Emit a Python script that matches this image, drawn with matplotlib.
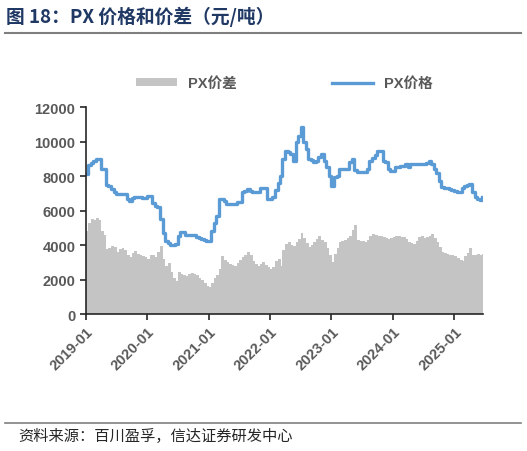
import matplotlib
matplotlib.use("Agg")
import matplotlib.pyplot as plt
import matplotlib.dates as mdates
import pandas as pd

plt.rcParams['font.family'] = ['Liberation Sans', 'Noto Sans CJK SC', 'DejaVu Sans']

# semi-monthly readings, Jan 2019 .. Jun 2025
dates = pd.date_range('2019-01-01', periods=156, freq='SMS')

px_price = [
    8100, 8650, 8780, 8900, 8980, 8980, 8400, 8380, 7480, 7420, 7250, 7050,
    6960, 6960, 6960, 6960, 6670, 6570, 6700, 6765, 6765, 6765, 6700, 6750,
    6860, 6860, 6450, 6280, 6185, 5500, 4700, 4250, 4100, 3980, 4000, 4060,
    4500, 4740, 4740, 4580, 4580, 4580, 4580, 4445, 4380, 4330, 4280, 4260,
    4250, 4800, 5250, 5700, 6670, 6650, 6550, 6380, 6380, 6380, 6380, 6475,
    6475, 7090, 7150, 7250, 7150, 7050, 7050, 7100, 7280, 7280, 7280, 6670,
    6670, 6760, 7200, 7600, 8020, 9000, 9450, 9400, 9300, 8900, 9950, 10300,
    10850, 10000, 9550, 9000, 8950, 8790, 8900, 9100, 9250, 8900, 8520, 8000,
    7440, 7930, 8020, 8400, 8400, 8400, 8400, 8800, 9000, 8350, 8210, 8210,
    8210, 8250, 8400, 8900, 9050, 9200, 9470, 9470, 8880, 8790, 8400, 8310,
    8310, 8500, 8550, 8600, 8600, 8700, 8550, 8700, 8700, 8700, 8700, 8700,
    8700, 8750, 8890, 8700, 8400, 8150, 7730, 7350, 7300, 7280, 7250, 7180,
    7150, 7100, 7100, 7300, 7420, 7480, 7530, 7050, 6800, 6650, 6600, 6790,
]

px_spread = [
    4800, 5300, 5500, 5450, 5550, 5450, 4800, 4600, 3750, 3800, 3950, 3900,
    3600, 3750, 3850, 3700, 3400, 3300, 3550, 3650, 3500, 3450, 3350, 3280,
    3200, 3400, 3450, 3300, 3600, 3950, 3200, 2800, 2950, 2450, 2100, 1900,
    2450, 2350, 2250, 2200, 2300, 2400, 2300, 2250, 2100, 1950, 1800, 1650,
    1550, 1800, 2100, 2250, 2600, 3350, 3150, 3000, 2900, 2850, 2800, 2950,
    3150, 3300, 3450, 3600, 3400, 3100, 2900, 2800, 2900, 3000, 2850, 2700,
    2600, 2750, 3100, 3200, 2800, 3700, 4050, 4200, 4000, 3950, 4200, 4350,
    4700, 4400, 4100, 3900, 4000, 4150, 4350, 4550, 4300, 4150, 3800, 3400,
    3000, 3500, 3850, 4150, 4250, 4300, 4400, 4550, 4900, 5150, 4300, 4250,
    4250, 4200, 4300, 4500, 4650, 4600, 4550, 4500, 4450, 4400, 4350, 4400,
    4450, 4550, 4500, 4450, 4450, 4350, 4200, 4100, 4050, 4250, 4450, 4550,
    4400, 4450, 4550, 4650, 4400, 4150, 3900, 3600, 3550, 3500, 3450, 3400,
    3350, 3250, 3150, 3100, 3350, 3550, 3850, 3400, 3450, 3500, 3450, 3500,
]

x_ticks = pd.date_range('2019-01-01', '2025-01-01', freq='YS')
y_ticks = [0, 2000, 4000, 6000, 8000, 10000, 12000]

label_gray = '#595959'

fig = plt.figure(figsize=(5.27, 4.52), dpi=100)
ax = fig.add_axes([0.163, 0.303, 0.754, 0.458])

bars = ax.bar(dates, px_spread, width=17.5, color='#c4c4c4', linewidth=0,
              align='edge', label='PX价差')
line, = ax.plot(dates, px_price, color='#5b9bd5', linewidth=2.4,
                drawstyle='steps-post', label='PX价格')

ax.set_ylim(0, 12000)
ax.set_xlim(pd.Timestamp('2019-01-01'), pd.Timestamp('2025-06-22'))
ax.set_yticks(y_ticks)
ax.set_xticks(x_ticks)
ax.xaxis.set_major_formatter(mdates.DateFormatter('%Y-%m'))

for s in ['top', 'right']:
    ax.spines[s].set_visible(False)
for s in ['left', 'bottom']:
    ax.spines[s].set_color('#262626')
    ax.spines[s].set_linewidth(1.2)

ax.tick_params(axis='both', colors='#262626', length=4, width=1.2,
               labelcolor=label_gray, labelsize=10.5)
for lab in ax.get_yticklabels():
    lab.set_fontweight('bold')
for lab in ax.get_xticklabels():
    lab.set_fontweight('bold')
    lab.set_rotation(45)
    lab.set_ha('right')
    lab.set_rotation_mode('anchor')

leg = ax.legend([bars, line], ['PX价差', 'PX价格'], loc='center',
                bbox_to_anchor=(0.5, 1.115), ncol=2, frameon=False,
                handlelength=2.8, handleheight=0.45, columnspacing=6.5,
                prop={'weight': 'bold', 'size': 10.5})
for t in leg.get_texts():
    t.set_color(label_gray)

# title and footer
fig.text(0.012, 0.963, '图 18：PX 价格和价差（元/吨）', fontsize=13.5, fontweight='bold',
         color='#1f3864', va='center', family=['Noto Sans CJK SC', 'DejaVu Sans'])
fig.add_artist(plt.Line2D([0.01, 0.988], [0.925, 0.925], color='#7f7f7f', linewidth=1.5))
fig.add_artist(plt.Line2D([0.01, 0.988], [0.061, 0.061], color='#7f7f7f', linewidth=1.2))
fig.text(0.035, 0.034, '资料来源：百川盈孚，信达证券研发中心', fontsize=11, style='italic',
         color='#262626', va='center', family=['Noto Sans CJK SC', 'DejaVu Sans'])

fig.savefig('out.png', dpi=100)
